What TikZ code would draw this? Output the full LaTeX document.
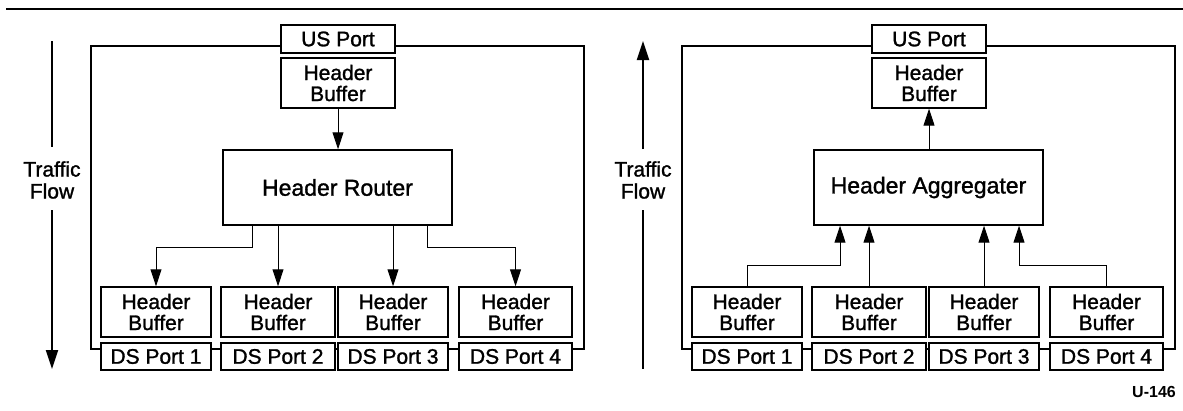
\documentclass[tikz,border=0pt]{standalone}
\usepackage{fontspec}
\setmainfont{Liberation Sans}[FakeBold=1.3,BoldFont=Liberation Sans Bold,BoldFeatures={FakeBold=0}]
\usetikzlibrary{arrows.meta}
\begin{document}
\begin{tikzpicture}[x=1pt,y=-1pt,
  box/.style={draw,line width=1.4pt,fill=white,inner sep=0pt,align=center,font=\fontsize{21}{21}\selectfont},
  bigbox/.style={box,font=\fontsize{23}{23}\selectfont},
  frame/.style={draw,line width=1.1pt},
  conn/.style={line width=1pt,-{Triangle[length=17pt,width=11pt]}},
  flow/.style={line width=2pt},
  flowarr/.style={line width=2pt,-{Triangle[length=19pt,width=12pt]}},
  lbl/.style={align=center,inner sep=0pt,font=\fontsize{21}{22}\selectfont}]
\useasboundingbox (0,0) rectangle (1183,410);
% top rule
\coordinate (ruleL) at (6,9);
\coordinate (ruleR) at (1183,9);
\draw[line width=2.7pt] (ruleL) -- (ruleR);

% ================= left panel =================
\draw[frame] (91,46) rectangle (584,349);
\node[box,minimum width=114pt,minimum height=28pt] (lus) at (338,39) {US Port};
\node[box,minimum width=114pt,minimum height=50pt] (lhb) at (338,83) {Header\\Buffer};
\node[bigbox,minimum width=229pt,minimum height=75pt] (router) at (337.5,187.5) {Header Router};
\node[box,minimum width=110pt,minimum height=50pt] (lb1) at (156,312) {Header\\Buffer};
\node[box,minimum width=114pt,minimum height=50pt] (lb2) at (278,312) {Header\\Buffer};
\node[box,minimum width=110pt,minimum height=50pt] (lb3) at (393,312) {Header\\Buffer};
\node[box,minimum width=113pt,minimum height=50pt] (lb4) at (515.5,312) {Header\\Buffer};
\node[box,minimum width=110pt,minimum height=27pt] (lp1) at (156,356.5) {DS Port 1};
\node[box,minimum width=114pt,minimum height=27pt] (lp2) at (278,356.5) {DS Port 2};
\node[box,minimum width=110pt,minimum height=27pt] (lp3) at (393,356.5) {DS Port 3};
\node[box,minimum width=113pt,minimum height=27pt] (lp4) at (515.5,356.5) {DS Port 4};
\draw[conn] (lhb.south) -- (lhb.south |- router.north);
\coordinate (lr1) at (252,247);
\coordinate (lr4) at (427,247);
\draw[conn] (lr1 |- router.south) -- (lr1) -| (lb1.north);
\draw[conn] (lb2.north |- router.south) -- (lb2.north);
\draw[conn] (lb3.north |- router.south) -- (lb3.north);
\draw[conn] (lr4 |- router.south) -- (lr4) -| (lb4.north);
% traffic flow (down)
\node[lbl] (ltf) at (52,180) {Traffic\\Flow};
\coordinate (ltfa) at (52,41);
\coordinate (ltf1) at (52,147);
\coordinate (ltf2) at (52,210);
\coordinate (ltfb) at (52,369);
\draw[flow] (ltfa) -- (ltf1);
\draw[flowarr] (ltf2) -- (ltfb);

% ================= right panel =================
\draw[frame] (682,46) rectangle (1175,349);
\node[box,minimum width=114pt,minimum height=28pt] (rus) at (929,39) {US Port};
\node[box,minimum width=114pt,minimum height=50pt] (rhb) at (929,83) {Header\\Buffer};
\node[bigbox,minimum width=229pt,minimum height=75pt] (agg) at (928.5,187.5) {Header Aggregater};
\node[box,minimum width=110pt,minimum height=50pt] (rb1) at (747,312) {Header\\Buffer};
\node[box,minimum width=114pt,minimum height=50pt] (rb2) at (869,312) {Header\\Buffer};
\node[box,minimum width=110pt,minimum height=50pt] (rb3) at (984,312) {Header\\Buffer};
\node[box,minimum width=113pt,minimum height=50pt] (rb4) at (1106.5,312) {Header\\Buffer};
\node[box,minimum width=110pt,minimum height=27pt] (rp1) at (747,356.5) {DS Port 1};
\node[box,minimum width=114pt,minimum height=27pt] (rp2) at (869,356.5) {DS Port 2};
\node[box,minimum width=110pt,minimum height=27pt] (rp3) at (984,356.5) {DS Port 3};
\node[box,minimum width=113pt,minimum height=27pt] (rp4) at (1106.5,356.5) {DS Port 4};
\draw[conn] (rhb.south |- agg.north) -- (rhb.south);
\coordinate (ra1) at (840,265);
\coordinate (ra4) at (1019,265);
\draw[conn] (rb1.north) |- (ra1) -- (ra1 |- agg.south);
\draw[conn] (rb2.north) -- (rb2.north |- agg.south);
\draw[conn] (rb3.north) -- (rb3.north |- agg.south);
\draw[conn] (rb4.north) |- (ra4) -- (ra4 |- agg.south);
% traffic flow (up)
\node[lbl] (rtf) at (643,180) {Traffic\\Flow};
\coordinate (rtfa) at (643,41);
\coordinate (rtf1) at (643,149);
\coordinate (rtf2) at (643,210);
\coordinate (rtfb) at (643,369);
\draw[flowarr] (rtf1) -- (rtfa);
\draw[flow] (rtf2) -- (rtfb);

\node[anchor=east,inner sep=0pt,font=\bfseries\fontsize{16}{16}\selectfont] (fig) at (1176,392) {U-146};
\end{tikzpicture}
\end{document}
